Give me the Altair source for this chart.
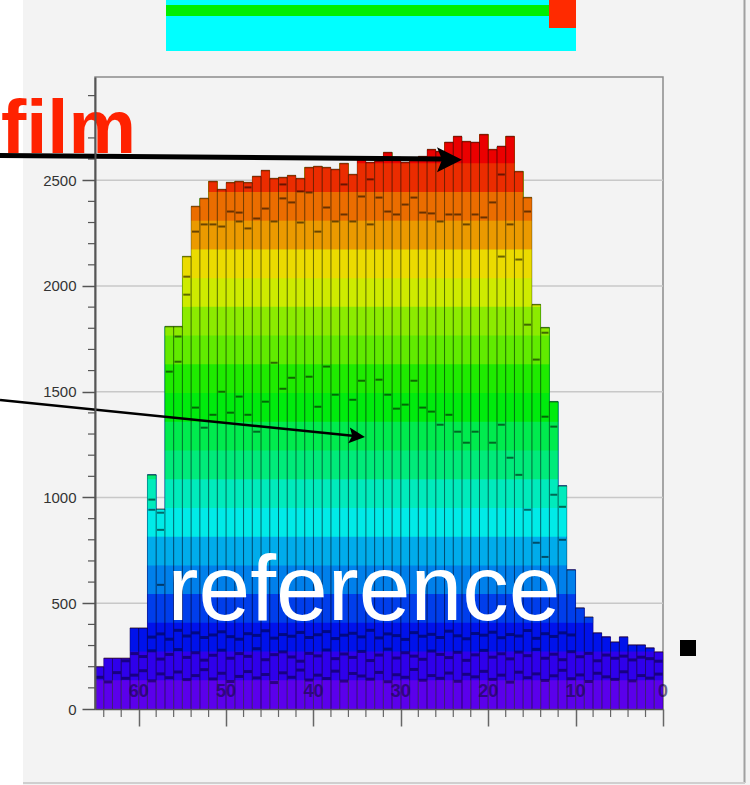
import altair as alt
import pandas as pd

# ---------------- data ----------------
# lego x-axis runs from 65 (left) down to 0 (right); one bin per unit
bin_hi = list(range(65, 0, -1))          # bin i covers [bin_hi-1, bin_hi]
heights = [200, 240, 240, 240, 383, 383, 1107, 945, 1808, 1808,
           2139, 2376, 2414, 2494, 2456, 2489, 2494, 2489, 2518, 2546,
           2508, 2513, 2522, 2508, 2560, 2565, 2560, 2551, 2579, 2527,
           2600, 2584, 2590, 2631, 2608, 2584, 2598, 2612, 2645, 2636,
           2679, 2707, 2683, 2679, 2716, 2645, 2660, 2707, 2541, 2418,
           1912, 1803, 1453, 1055, 658, 478, 435, 360, 341, 317,
           341, 303, 303, 289, 270]

# dark dashes (tops of hidden lego boxes): bin index and value
dash_bin = [11, 12, 13, 14, 15, 16, 17, 18, 19, 20, 21, 22, 24, 25, 26, 27, 29, 30,
            32, 33, 34, 35, 36, 37, 38, 39, 40, 41, 42, 43, 45, 46, 47,
            11, 12, 13, 14, 15, 16, 16, 17, 17, 18, 19, 20, 21, 21, 22, 23, 23, 24,
            25, 26, 27, 28, 28, 29, 30, 31, 31, 32, 33, 34, 35, 36, 37, 38, 39, 40,
            41, 42, 43, 44, 45, 46, 47, 48, 49, 46,
            10, 10, 9, 9, 8, 49, 50, 51, 51,
            6, 6, 7, 7, 7,
            52, 48, 52, 53, 49, 53, 50, 51]
dash_val = [1425, 1330, 1391, 1500, 1401, 1477, 1391, 1311, 1453, 1637, 1514, 1566, 1571, 1429, 1619, 1486, 1462, 1552,
            1557, 1486, 1420, 1439, 1552, 1425, 1406, 1344, 1391, 1311, 1259, 1311, 1259, 1344, 1188,
            2257, 2291, 2291, 2281, 2352, 2347, 2305, 2272, 2466, 2319, 2366, 2305, 2480, 2414, 2395, 2300, 2447, 2442,
            2257, 2371, 2305, 2338, 2480, 2305, 2423, 2291, 2504, 2418, 2352, 2338, 2385, 2418, 2347, 2343, 2305, 2338,
            2338, 2291, 2338, 2324, 2395, 2139, 2291, 2125, 2352, 2527,
            2044, 1959, 1761, 1642, 1595, 1817, 1652, 1779, 1382,
            990, 942, 928, 847, 587,
            1335, 1107, 1013, 956, 942, 800, 786, 719]

# dense dark marks in the low (violet / blue) part, one list per row
low_a_bins = list(range(6, 55))
low_a_vals = [340, 355, 330, 372, 345, 360, 338, 350, 365, 342,
              330, 356, 348, 370, 335, 352, 344, 362, 338, 351,
              366, 333, 349, 358, 341, 372, 336, 355, 347, 329,
              361, 344, 353, 338, 368, 346, 332, 357, 349, 363,
              337, 352, 345, 371, 334, 356, 343, 360, 350]
low_b_bins = list(range(3, 65))
low_b_vals = [228, 262, 248, 275, 236, 258, 281, 244, 266, 231,
              254, 278, 240, 262, 249, 285, 233, 257, 270, 246,
              226, 263, 251, 279, 238, 260, 244, 272, 229, 255,
              283, 241, 266, 250, 235, 274, 258, 243, 268, 230,
              256, 277, 245, 261, 237, 269, 252, 282, 240, 259,
              233, 271, 247, 263, 228, 255, 240, 250, 232, 245,
              238, 226]
low_c_bins = list(range(0, 65))
low_c_vals = [150, 128, 172, 145, 160, 181, 133, 166, 148, 175,
              139, 158, 186, 142, 169, 130, 154, 177, 147, 163,
              125, 171, 150, 184, 137, 160, 144, 179, 132, 168,
              156, 141, 173, 129, 162, 150, 187, 136, 158, 145,
              170, 131, 164, 152, 178, 140, 160, 127, 174, 148,
              166, 135, 157, 183, 143, 161, 130, 169, 152, 140,
              176, 133, 158, 146, 165]

y_major = [0, 500, 1000, 1500, 2000, 2500]
y_minor = [v for v in range(100, 3000, 100) if v % 500 != 0]
x_major = [0, 10, 20, 30, 40, 50, 60]
x_minor = [v for v in range(2, 65, 2) if v % 10 != 0]
lego_labels = ["60", "50", "40", "30", "20", "10", "0"]
lego_label_pos = [60, 50, 40, 30, 20, 10, 0]
lego_label_level = 80

# ROOT "pretty" palette, 20 contour levels (violet -> red)
palette = ["#5b00eb", "#2f00eb", "#0012eb", "#003eeb", "#0080eb",
           "#00aceb", "#00ebe8", "#00ebbc", "#00eb7a", "#00eb4e",
           "#00eb0d", "#1feb00", "#61eb00", "#8ceb00", "#ceeb00",
           "#ebdb00", "#eb9a00", "#eb6d00", "#eb2c00", "#eb0000"]
n_levels = 20

# ---------------- build tables ----------------
step = max(heights) / n_levels
seg_rows = []
for hi, h in zip(bin_hi, heights):
    for k in range(n_levels):
        lo_v = k * step
        if lo_v >= h:
            break
        # each level painted from its lower contour up to the bar top;
        # the next level paints over it, so no seams appear
        seg_rows.append({"x0": hi, "x1": hi - 1, "y0": lo_v, "y1": h, "band": k})
segs = pd.DataFrame(seg_rows)

bars = pd.DataFrame({"x0": bin_hi, "x1": [b - 1 for b in bin_hi], "h": heights})
edges = pd.DataFrame({"xe": bin_hi + [b - 1 for b in bin_hi],
                      "z": [0] * (2 * len(bin_hi)),
                      "h": heights + heights})
dashes = pd.DataFrame({"x0": [bin_hi[i] - 0.1 for i in dash_bin],
                       "x1": [bin_hi[i] - 0.9 for i in dash_bin],
                       "v": dash_val})
low_bins = low_a_bins[:len(low_a_vals)] + low_b_bins[:len(low_b_vals)] + low_c_bins[:len(low_c_vals)]
low_vals = low_a_vals[:len(low_a_bins)] + low_b_vals[:len(low_b_bins)] + low_c_vals[:len(low_c_bins)]
low_rows = [(b, v) for b, v in zip(low_bins, low_vals) if v < heights[b]]
low_dashes = pd.DataFrame({"x0": [bin_hi[b] - 0.05 for b, v in low_rows],
                           "x1": [bin_hi[b] - 0.95 for b, v in low_rows],
                           "v": [v for b, v in low_rows]})
lego_df = pd.DataFrame({"p": lego_label_pos, "t": lego_labels,
                        "lv": [lego_label_level] * len(lego_labels)})

W, H = 568, 632
X0, Y0 = 95, 77   # plot origin in page pixels

xs = alt.Scale(domain=[65, 0], nice=False, zero=False)
ys = alt.Scale(domain=[0, 2988], nice=False)

one = alt.Data(values=[{"a": 1}])


def box(x1, x2, y1, y2, color):
    return alt.Chart(one).mark_rect(color=color).encode(
        x=alt.value(x1 - X0), x2=alt.value(x2 - X0),
        y=alt.value(y1 - Y0), y2=alt.value(y2 - Y0))


def line(x1, y1, x2, y2, color, width):
    return alt.Chart(one).mark_rule(color=color, strokeWidth=width).encode(
        x=alt.value(x1 - X0), x2=alt.value(x2 - X0),
        y=alt.value(y1 - Y0), y2=alt.value(y2 - Y0))


white_strip = box(0, 23, 0, 785, "#ffffff")
top_cyan = box(166, 576, 0, 51, "#00ffff")
top_green = box(166, 550, 5, 16, "#00ee00")
top_red = box(549, 576, 0, 28, "#ff2a00")

grid = alt.Chart(pd.DataFrame({"v": y_major[1:]})).mark_rule(
    color="#c8c8c8", strokeWidth=1.6).encode(y=alt.Y("v:Q", scale=ys))

seg_chart = alt.Chart(segs).mark_rect().encode(
    x=alt.X("x0:Q", scale=xs, axis=alt.Axis(values=x_major, labels=False, tickSize=17,
                                           tickColor="#666", tickWidth=1.5, domainColor="#555",
                                           domainWidth=1.5, grid=False, title=None, zindex=1)),
    x2="x1:Q",
    y=alt.Y("y0:Q", scale=ys, axis=alt.Axis(values=y_major, tickSize=13, tickColor="#555",
                                           tickWidth=1.5, domainColor="#555", domainWidth=2,
                                           grid=False, title=None, labelPadding=6, format="d",
                                           labelFont="Liberation Sans", labelFontSize=15,
                                           labelColor="#333333", zindex=1)),
    y2="y1:Q",
    color=alt.Color("band:O", scale=alt.Scale(domain=list(range(n_levels)), range=palette),
                    legend=None),
    order=alt.Order("band:O", sort="ascending"),
)

edge_chart = alt.Chart(edges).mark_rule(color="#000000", opacity=0.3, strokeWidth=1).encode(
    x=alt.X("xe:Q", scale=xs), y=alt.Y("z:Q", scale=ys), y2="h:Q")

top_chart = alt.Chart(bars).mark_rule(color="#200000", opacity=0.5, strokeWidth=1.5).encode(
    x=alt.X("x0:Q", scale=xs), x2="x1:Q", y=alt.Y("h:Q", scale=ys))

dash_chart = alt.Chart(dashes).mark_rule(color="#000000", opacity=0.55, strokeWidth=2).encode(
    x=alt.X("x0:Q", scale=xs), x2="x1:Q", y=alt.Y("v:Q", scale=ys))

low_dash_chart = alt.Chart(low_dashes).mark_rule(color="#000020", opacity=0.5, strokeWidth=3).encode(
    x=alt.X("x0:Q", scale=xs), x2="x1:Q", y=alt.Y("v:Q", scale=ys))

lego_text = alt.Chart(lego_df).mark_text(
    font="Liberation Sans", fontSize=18, fontWeight="bold", color="#140a3c", opacity=0.6,
    baseline="middle"
).encode(x=alt.X("p:Q", scale=xs), y=alt.Y("lv:Q", scale=ys), text="t:N")

y_minor_ticks = alt.Chart(pd.DataFrame({"v": y_minor})).mark_rule(
    color="#555", strokeWidth=1.2).encode(y=alt.Y("v:Q", scale=ys), x=alt.value(-7), x2=alt.value(0))
x_minor_ticks = alt.Chart(pd.DataFrame({"v": x_minor})).mark_rule(
    color="#666", strokeWidth=1.2).encode(x=alt.X("v:Q", scale=xs), y=alt.value(H), y2=alt.value(H + 8))

film = alt.Chart(one).mark_text(text="film", font="Liberation Sans", fontWeight="bold",
                                fontSize=76, color="#ff2200", align="right",
                                baseline="alphabetic").encode(
    x=alt.value(136 - X0), y=alt.value(153 - Y0))

arrow_path = "M1,0 L-1,-1 L-0.6,0 L-1,1 Z"
arrow1 = line(0, 155.5, 442, 159, "#000000", 5)
head1 = alt.Chart(one).mark_point(shape=arrow_path, size=625, filled=True, color="#000000",
                                  opacity=1).encode(
    x=alt.value(449.5 - X0), y=alt.value(159.8 - Y0))
arrow2 = line(0, 400, 355, 436, "#000000", 2.5)
head2 = alt.Chart(one).mark_point(shape=arrow_path, size=256, filled=True, color="#000000",
                                  opacity=1, angle=5.8).encode(
    x=alt.value(357 - X0), y=alt.value(436.2 - Y0))

reference = alt.Chart(one).mark_text(text="reference", font="Liberation Sans", fontSize=93,
                                     color="#ffffff", align="center",
                                     baseline="alphabetic").encode(
    x=alt.value(364 - X0), y=alt.value(620 - Y0))

square = box(680, 696, 640, 656, "#000000")

right_border = line(744.5, 0, 744.5, 783, "#a0a0a0", 2)
bottom_border = line(23, 783, 745, 783, "#cfcfcf", 2)

chart = alt.layer(
    white_strip, top_cyan, top_green, top_red, grid, seg_chart, edge_chart, top_chart,
    dash_chart, low_dash_chart, lego_text, y_minor_ticks, x_minor_ticks, film, arrow1, head1,
    arrow2, head2, reference, square, right_border, bottom_border
).properties(
    width=W, height=H,
    autosize=alt.AutoSizeParams(type="none"),
    padding={"left": X0, "top": Y0, "right": 750 - X0 - W, "bottom": 785 - Y0 - H},
    background="#f3f3f3",
).configure_view(stroke="#8c8c8c", strokeWidth=1.5)

chart.save("out.html", embed_options={"renderer": "svg", "actions": False})
